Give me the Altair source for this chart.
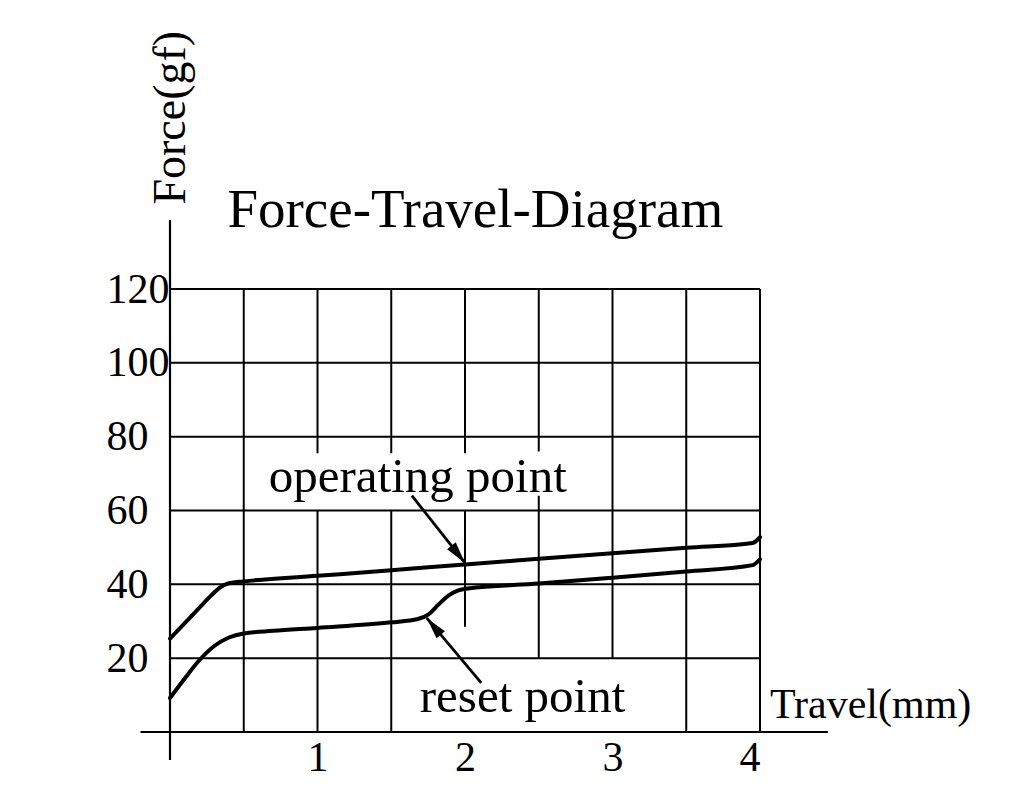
import math
import altair as alt
import pandas as pd

# ---------------- data ----------------
op_x = [0.0, 0.1, 0.2, 0.28, 0.34, 0.4, 0.5, 1.0, 1.5, 2.0, 2.5, 3.0, 3.5, 3.95, 4.0]
op_y = [25.3, 29.5, 33.7, 37.0, 39.2, 40.3, 40.8, 42.3, 43.8, 45.4, 46.9, 48.4, 49.9, 51.2, 52.8]

rs_x = [0.0, 0.1, 0.2, 0.3, 0.4, 0.5, 0.7, 1.0, 1.5, 1.68, 1.75, 1.82, 1.89, 1.95, 2.02, 2.5, 3.0, 3.5, 3.95, 4.0]
rs_y = [9.2, 14.5, 19.5, 23.3, 25.6, 26.7, 27.4, 28.2, 29.7, 30.6, 31.8, 34.5, 37.0, 38.3, 38.9, 40.2, 41.8, 43.5, 45.2, 46.8]

x_ticks = [1, 2, 3, 4]
y_ticks = [20, 40, 60, 80, 100, 120]

h_grid = [20, 40, 60, 80, 100, 120]
v_grid_x = [0.5, 1.0, 1.0, 1.5, 1.5, 2.0, 2.0, 2.5, 2.5, 3.0, 3.5, 4.0]
v_grid_y1 = [0, 0, 75.5, 0, 75.5, 28.5, 75.5, 20, 76, 20, 0, 0]
v_grid_y2 = [120, 60, 120, 60, 120, 60, 120, 64, 120, 120, 120, 120]

arrow_names = ["operating point", "reset point"]
arrow_tail_x = [1.64, 2.11]
arrow_tail_y = [64.0, 13.3]
arrow_tip_x = [2.0, 1.74]
arrow_tip_y = [45.8, 30.9]

label_text = ["operating point", "reset point"]
label_x = [1.68, 2.39]
label_y = [69.1, 9.5]

# ---------------- layout ----------------
W, H = 590, 443
XD, YD = [0, 4], [0, 120]
PXX, PXY = W / (XD[1] - XD[0]), H / (YD[1] - YD[0])
FONT = "Liberation Serif"

xs = alt.Scale(domain=XD, nice=False, zero=False)
ys = alt.Scale(domain=YD, nice=False, zero=False)

op = pd.DataFrame({"x": op_x, "y": op_y})
rs = pd.DataFrame({"x": rs_x, "y": rs_y})
hg = pd.DataFrame({"y": h_grid, "x1": 0, "x2": 4})
vg = pd.DataFrame({"x": v_grid_x, "y1": v_grid_y1, "y2": v_grid_y2})

angles = []
for tx, ty, hx, hy in zip(arrow_tail_x, arrow_tail_y, arrow_tip_x, arrow_tip_y):
    dx = (hx - tx) * PXX
    dy = -(hy - ty) * PXY  # screen y is downwards
    angles.append(math.degrees(math.atan2(dx, -dy)) % 360)
arr = pd.DataFrame({"name": arrow_names, "x1": arrow_tail_x, "y1": arrow_tail_y,
                    "x2": arrow_tip_x, "y2": arrow_tip_y, "angle": angles})

axes_lines = pd.DataFrame({"x1": [-0.2, 0.0], "x2": [4.46, 0.0], "y1": [0.0, -7.6], "y2": [0.0, 138.7]})

base_axis_x = alt.Axis(values=x_ticks, title=None, grid=False, domain=False, ticks=False,
                       labelFont=FONT, labelFontSize=42, labelColor="black",
                       labelPadding=5, labelBaseline="top", format="d")
base_axis_y = alt.Axis(values=y_ticks, title=None, grid=False, domain=False, ticks=False,
                       labelFont=FONT, labelFontSize=42, labelColor="black",
                       labelAlign="left", labelPadding=64, format="d")

hgrid = alt.Chart(hg).mark_rule(color="black", strokeWidth=2).encode(
    x=alt.X("x1:Q", scale=xs, axis=base_axis_x),
    x2="x2:Q",
    y=alt.Y("y:Q", scale=ys, axis=base_axis_y),
)
vgrid = alt.Chart(vg).mark_rule(color="black", strokeWidth=2).encode(
    x="x:Q", y="y1:Q", y2="y2:Q"
)
axl = alt.Chart(axes_lines).mark_rule(color="black", strokeWidth=2.2).encode(
    x="x1:Q", x2="x2:Q", y="y1:Q", y2="y2:Q"
)

op_line = alt.Chart(op).mark_line(color="black", strokeWidth=4, interpolate="monotone",
                                  strokeCap="round").encode(x="x:Q", y="y:Q")
rs_line = alt.Chart(rs).mark_line(color="black", strokeWidth=4, interpolate="monotone",
                                  strokeCap="round").encode(x="x:Q", y="y:Q")

arrow_lines = alt.Chart(arr).mark_rule(color="black", strokeWidth=2.8).encode(
    x="x1:Q", y="y1:Q", x2="x2:Q", y2="y2:Q"
)
arrow_heads = alt.Chart(arr).mark_point(
    shape="M0,0L0.5,2L-0.5,2Z", filled=True, color="black", opacity=1, size=480, strokeWidth=0
).encode(x="x2:Q", y="y2:Q", angle=alt.Angle("angle:Q", scale=None))

labels = alt.Chart(pd.DataFrame({"t": label_text, "x": label_x, "y": label_y})).mark_text(
    font=FONT, fontSize=49, color="black", align="center", baseline="middle"
).encode(x="x:Q", y="y:Q", text="t:N")

title = alt.Chart(pd.DataFrame({"t": ["Force-Travel-Diagram"], "x": [2.07], "y": [141.5]})).mark_text(
    font=FONT, fontSize=55, color="black", align="center", baseline="middle"
).encode(x="x:Q", y="y:Q", text="t:N")

xlab = alt.Chart(pd.DataFrame({"t": ["Travel(mm)"], "x": [4.75], "y": [7.3]})).mark_text(
    font=FONT, fontSize=42, color="black", align="center", baseline="middle"
).encode(x="x:Q", y="y:Q", text="t:N")

ylab = alt.Chart(pd.DataFrame({"t": ["Force(gf)"], "x": [0.01], "y": [166.4]})).mark_text(
    font=FONT, fontSize=46, color="black", align="center", baseline="middle", angle=270
).encode(x="x:Q", y="y:Q", text="t:N")

chart = alt.layer(
    hgrid, vgrid, axl, op_line, rs_line, arrow_lines, arrow_heads, labels, title, xlab, ylab
).properties(
    width=W, height=H,
    autosize=alt.AutoSizeParams(type="none"),
    padding={"left": 162, "top": 281, "right": 250, "bottom": 70},
    background="white",
).configure_view(stroke=None)

chart.save("out.html", embed_options={"renderer": "svg", "actions": False})
